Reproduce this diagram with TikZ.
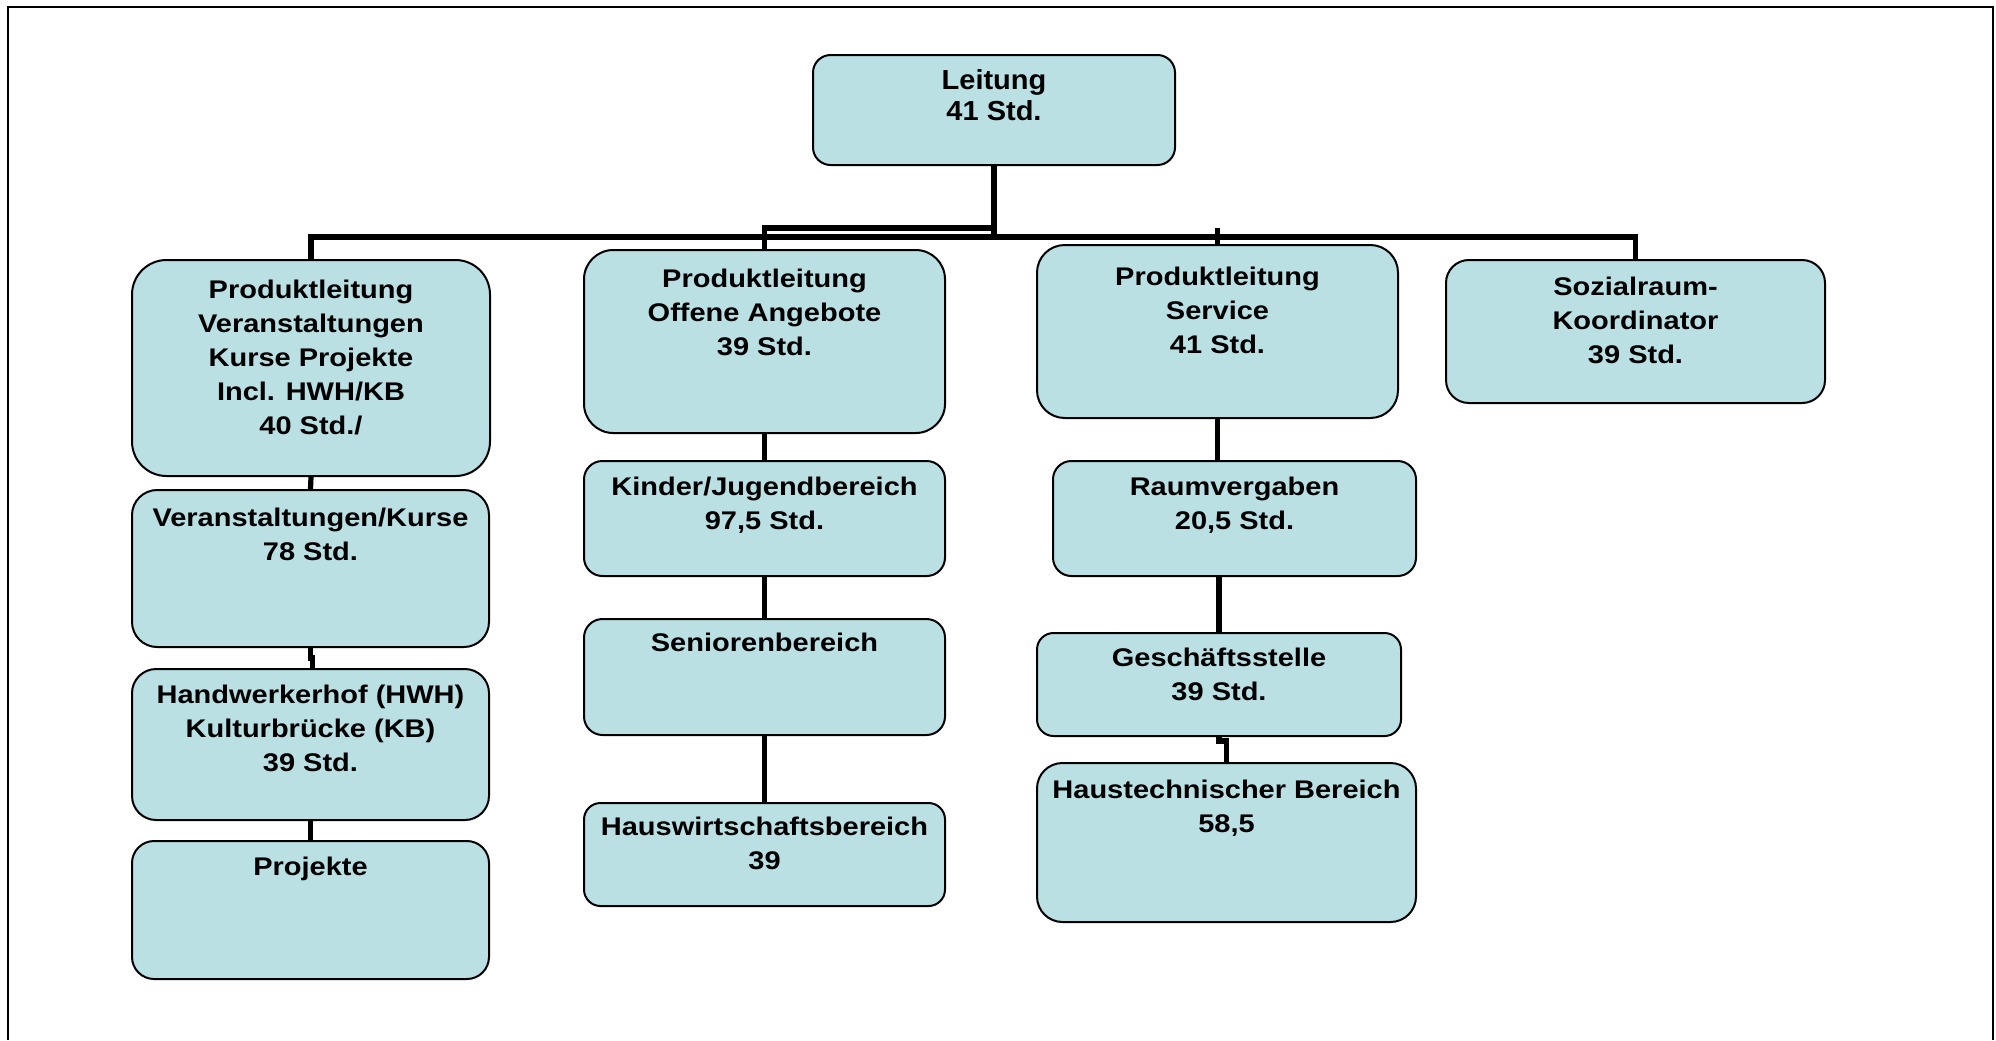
\documentclass[tikz,border=0pt]{standalone}
\usepackage{fontspec}
\setmainfont{Liberation Sans}
\usetikzlibrary{calc}
\definecolor{boxfill}{RGB}{186,224,228}
\tikzset{
  orgbox/.style={draw=black, line width=1pt, fill=boxfill, inner sep=0pt, shape=rectangle},
  conn/.style={draw=black, line width=2.6pt, line join=miter},
  frameline/.style={draw=black, line width=1.2pt}
}
\newcommand\orgnode[9]{%
  \pgfmathsetmacro\obW{(#4-#2)*0.5}%
  \pgfmathsetmacro\obH{(#5-#3)*0.5}%
  \pgfmathsetmacro\obR{0.16*min(\obW,\obH)}%
  \node[orgbox, minimum width=\obW pt, minimum height=\obH pt, rounded corners=\obR pt] (#1) at ({(#2+#4)/2},{(#3+#5)/2}) {};
  \node[anchor=north, inner sep=0pt] (#1-txt) at ({(#2+#4)/2},#6) {\scalebox{1}[#8]{\parbox{200pt}{\centering\fontsize{14.5}{#9}\selectfont\bfseries #7}}};
}
\begin{document}
\begin{tikzpicture}[x=0.5pt,y=-0.5pt]
\useasboundingbox (0,0) rectangle (1996,1040);
\draw[frameline] (8,1040) -- (8,7) -- (1993,7) -- (1993,1040);

\orgnode{lead}{813}{55}{1175}{165}{69}{Leitung\\41 Std.}{0.95}{16.5}
\orgnode{pv}{132}{260}{490}{476}{280}{Produktleitung\\Veranstaltungen\\Kurse Projekte\\Incl. HWH/KB\\40 Std./}{0.88}{19.2}
\orgnode{vk}{132}{490}{489}{647}{508}{Veranstaltungen/Kurse\\78 Std.}{0.88}{19.2}
\orgnode{hw}{132}{669}{489}{820}{685}{Handwerkerhof (HWH)\\Kulturbrücke (KB)\\39 Std.}{0.88}{19.2}
\orgnode{pj}{132}{841}{489}{979}{857}{Projekte}{0.88}{19.2}
\orgnode{po}{584}{250}{945}{433}{269}{Produktleitung\\Offene Angebote\\39 Std.}{0.88}{19.2}
\orgnode{kj}{584}{461}{945}{576}{477}{Kinder/Jugendbereich\\97,5 Std.}{0.88}{19.2}
\orgnode{sn}{584}{619}{945}{735}{633}{Seniorenbereich}{0.88}{19.2}
\orgnode{hws}{584}{803}{945}{906}{817}{Hauswirtschaftsbereich\\39}{0.88}{19.2}
\orgnode{ps}{1037}{245}{1398}{418}{267}{Produktleitung\\Service\\41 Std.}{0.88}{19.2}
\orgnode{rv}{1053}{461}{1416}{576}{477}{Raumvergaben\\20,5 Std.}{0.88}{19.2}
\orgnode{gs}{1037}{633}{1401}{736}{648}{Geschäftsstelle\\39 Std.}{0.88}{19.2}
\orgnode{ht}{1037}{763}{1416}{922}{780}{Haustechnischer Bereich\\58,5}{0.88}{19.2}
\orgnode{sr}{1446}{260}{1825}{403}{277}{Sozialraum-\\Koordinator\\39 Std.}{0.88}{19.2}

\coordinate (bar) at (0,237);
\coordinate (ubar) at (0,228);
\draw[conn] (lead.south) -- (lead.south |- bar);
\draw[conn] (pv.north) -- (pv.north |- bar) -- (sr.north |- bar) -- (sr.north);
\draw[conn] (lead.south |- ubar) -- (po.north |- ubar) -- (po.north);
\draw[conn] (ps.north |- ubar) -- (ps.north);

\draw[conn] (pv.south) -- (vk.north);
\draw[conn] (vk.south) -- ++(0,10) -- ++(2,0) -- ($(hw.north)+(2,0)$);
\draw[conn] (hw.south) -- (pj.north);

\draw[conn] (po.south) -- (kj.north);
\draw[conn] (kj.south) -- (sn.north);
\draw[conn] (sn.south) -- (hws.north);

\draw[conn] (ps.south) -- (ps.south |- rv.north);
\draw[conn] (gs.north |- rv.south) -- (gs.north);
\draw[conn] (gs.south) -- ++(0,4) -| (ht.north);
\end{tikzpicture}
\end{document}
